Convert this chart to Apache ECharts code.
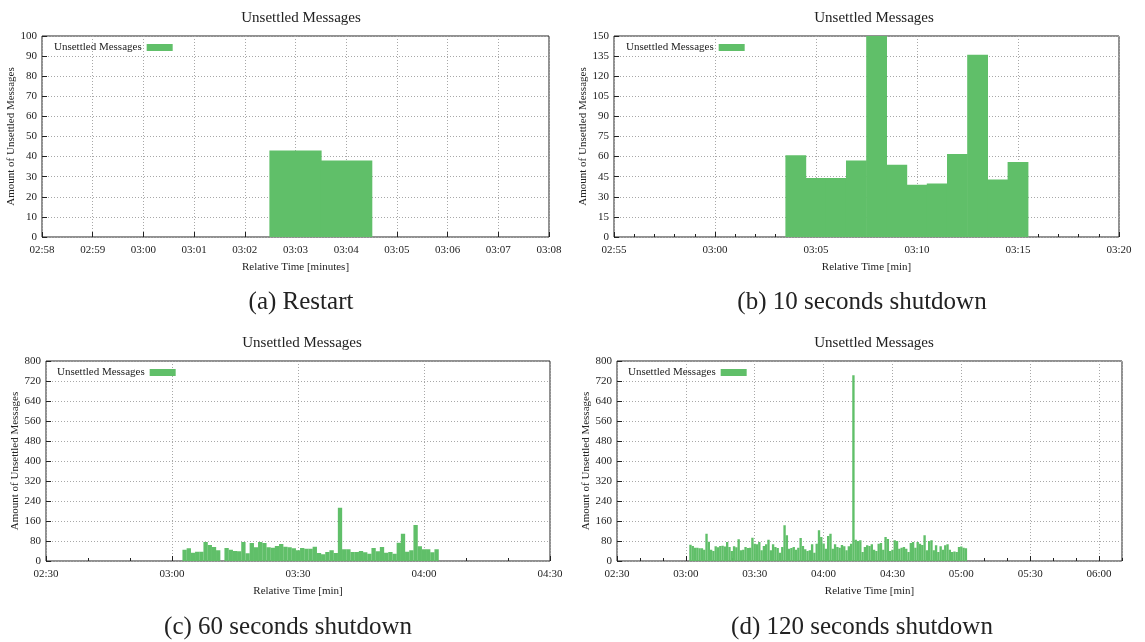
<!DOCTYPE html>
<html>
<head>
<meta charset="utf-8">
<script src="https://cdn.jsdelivr.net/npm/echarts@6/dist/echarts.min.js"></script>
<style>
  html, body { margin: 0; padding: 0; background: #fff; }
  #chart { width: 1145px; height: 642px; }
</style>
</head>
<body>
<div id="chart"></div>
<script>
// x values are seconds, shown as mm:ss on the axis
const restartTimes = [183, 184]
const restartValues = [43, 38]

const shut10Times = [184, 185, 186, 187, 188, 189, 190, 191, 192, 193, 194, 195]
const shut10Values = [61, 44, 44, 57, 150, 54, 39, 40, 62, 136, 43, 56]

const shut60Times = [
  183, 184, 185, 186, 187, 188, 189, 190, 191, 192, 193, 194, 195, 196, 197, 198, 199, 200, 201, 202,
  203, 204, 205, 206, 207, 208, 209, 210, 211, 212, 213, 214, 215, 216, 217, 218, 219, 220, 221, 222,
  223, 224, 225, 226, 227, 228, 229, 230, 231, 232, 233, 234, 235, 236, 237, 238, 239, 240, 241, 242, 243
]
const shut60Values = [
  45, 51, 33, 37, 37, 76, 64, 56, 43, 0, 52, 45, 40, 39, 76, 31, 72, 55, 76, 72,
  55, 53, 60, 68, 57, 55, 51, 43, 52, 49, 49, 57, 32, 27, 36, 43, 32, 213, 47, 47,
  36, 36, 40, 35, 29, 52, 39, 56, 33, 36, 29, 73, 109, 37, 43, 144, 59, 47, 47, 35, 47
]

const shut120Times = [
  182, 183, 184, 185, 186, 187, 188, 189, 190, 191, 192, 193, 194, 195, 196, 197, 198, 199, 200, 201,
  202, 203, 204, 205, 206, 207, 208, 209, 210, 211, 212, 213, 214, 215, 216, 217, 218, 219, 220, 221,
  222, 223, 224, 225, 226, 227, 228, 229, 230, 231, 232, 233, 234, 235, 236, 237, 238, 239, 240, 241,
  242, 243, 244, 245, 246, 247, 248, 249, 250, 251, 252, 253, 254, 255, 256, 257, 258, 259, 260, 261,
  262, 263, 264, 265, 266, 267, 268, 269, 270, 271, 272, 273, 274, 275, 276, 277, 278, 279, 280, 281,
  282, 283, 284, 285, 286, 287, 288, 289, 290, 291, 292, 293, 294, 295, 296, 297, 298, 299, 300, 301, 302
]
const shut120Values = [
  65, 60, 53, 53, 51, 51, 45, 109, 77, 45,
  40, 59, 55, 60, 61, 58, 76, 56, 40, 59,
  55, 87, 43, 45, 56, 52, 53, 93, 69, 67,
  76, 43, 60, 67, 85, 43, 67, 56, 52, 33,
  56, 143, 103, 49, 52, 56, 45, 53, 92, 60,
  47, 40, 43, 67, 33, 69, 123, 96, 70, 49,
  100, 109, 49, 67, 56, 53, 64, 59, 43, 59,
  69, 743, 85, 80, 83, 36, 56, 63, 60, 67,
  45, 40, 69, 72, 45, 96, 88, 40, 45, 83,
  80, 49, 53, 56, 49, 36, 72, 76, 53, 76,
  69, 64, 103, 43, 80, 83, 43, 63, 36, 59,
  45, 63, 67, 45, 36, 38, 36, 56, 58, 53, 51
]

const captions = ['(a) Restart', '(b) 10 seconds shutdown', '(c) 60 seconds shutdown', '(d) 120 seconds shutdown']
const seriesName = 'Unsettled Messages'
const barColor = '#60bf69'
const font = 'Liberation Serif'
const ink = '#222'

function pad (n) {
  return (n < 10 ? '0' : '') + n
}
function fmtTime (v) {
  const m = Math.floor(v / 60)
  const s = Math.round(v - m * 60)
  return pad(m) + ':' + pad(s)
}
function pairs (xs, ys) {
  return xs.map((x, i) => [x, ys[i]])
}

const grids = [
  { left: 42, top: 36, width: 507, height: 201 },
  { left: 614, top: 36, width: 505, height: 201 },
  { left: 46, top: 361, width: 504, height: 200 },
  { left: 617, top: 361, width: 505, height: 200 }
]

const gridLine = { show: true, lineStyle: { color: '#a8a8a8', type: [1, 2], width: 1 } }

function xAxisFor (gi, min, max, interval, minor, nameText, hideMax) {
  return {
    type: 'value', gridIndex: gi, min, max, interval,
    name: nameText, nameLocation: 'middle', nameGap: 25,
    nameTextStyle: { fontFamily: font, fontSize: 11, color: ink },
    axisLine: { show: false },
    axisTick: { show: true, inside: true, length: 5, lineStyle: { color: ink } },
    minorTick: { show: minor > 0, splitNumber: minor || 5, length: 3, lineStyle: { color: ink } },
    axisLabel: { formatter: fmtTime, fontFamily: font, fontSize: 11, color: ink, margin: 8, showMaxLabel: !hideMax },
    splitLine: gridLine
  }
}
function yAxisFor (gi, max, interval) {
  return {
    type: 'value', gridIndex: gi, min: 0, max, interval,
    name: 'Amount of Unsettled Messages', nameLocation: 'middle', nameGap: 24,
    nameTextStyle: { fontFamily: font, fontSize: 11, color: ink },
    axisLine: { show: false },
    axisTick: { show: true, inside: true, length: 5, lineStyle: { color: ink } },
    axisLabel: { fontFamily: font, fontSize: 11, color: ink, margin: 5 },
    splitLine: gridLine
  }
}
function barSeries (i, data) {
  return {
    name: seriesName, type: 'bar', xAxisIndex: i, yAxisIndex: i,
    data, barWidth: '103%', animation: false,
    itemStyle: { color: barColor }
  }
}

const titles = []
const titleX = [296, 869, 297, 869]
const titleY = [6, 6, 331, 331]
const capX = [296, 857, 283, 857]
const capY = [285, 285, 610, 610]
for (let i = 0; i < 4; i++) {
  titles.push({
    text: 'Unsettled Messages', left: titleX[i], top: titleY[i], textAlign: 'center',
    textStyle: { fontFamily: font, fontSize: 15, fontWeight: 'normal', color: ink }
  })
  titles.push({
    text: captions[i], left: capX[i], top: capY[i], textAlign: 'center',
    textStyle: { fontFamily: font, fontSize: 25, fontWeight: 'normal', color: ink }
  })
}

const legendPos = [[54, 42], [626, 42], [57, 367], [628, 367]]

const chart = echarts.init(document.getElementById('chart'), null, { renderer: 'canvas' })
chart.setOption({
  animation: false,
  backgroundColor: '#fff',
  title: titles,
  legend: legendPos.map(p => ({
    left: p[0], top: p[1], data: [seriesName], align: 'right',
    icon: 'rect', itemWidth: 26, itemHeight: 7, padding: 0,
    textStyle: { fontFamily: font, fontSize: 11, color: ink }
  })),
  grid: grids.map(g => Object.assign({ show: true, borderColor: ink, borderWidth: 1, backgroundColor: 'transparent' }, g)),
  xAxis: [
    xAxisFor(0, 178, 188, 1, 0, 'Relative Time [minutes]'),
    xAxisFor(1, 175, 200, 5, 5, 'Relative Time [min]'),
    xAxisFor(2, 150, 270, 30, 3, 'Relative Time [min]'),
    xAxisFor(3, 150, 370, 30, 0, 'Relative Time [min]', true),
    {
      // minor ticks for panel (d), every 10
      type: 'value', gridIndex: 3, min: 150, max: 370, interval: 10, position: 'bottom',
      axisLine: { show: false }, axisLabel: { show: false }, splitLine: { show: false },
      axisTick: { show: true, inside: true, length: 3, lineStyle: { color: ink } }
    }
  ],
  yAxis: [
    yAxisFor(0, 100, 10),
    yAxisFor(1, 150, 15),
    yAxisFor(2, 800, 80),
    yAxisFor(3, 800, 80)
  ],
  series: [
    barSeries(0, pairs(restartTimes, restartValues)),
    barSeries(1, pairs(shut10Times, shut10Values)),
    barSeries(2, pairs(shut60Times, shut60Values)),
    barSeries(3, pairs(shut120Times, shut120Values))
  ]
})
</script>
</body>
</html>
